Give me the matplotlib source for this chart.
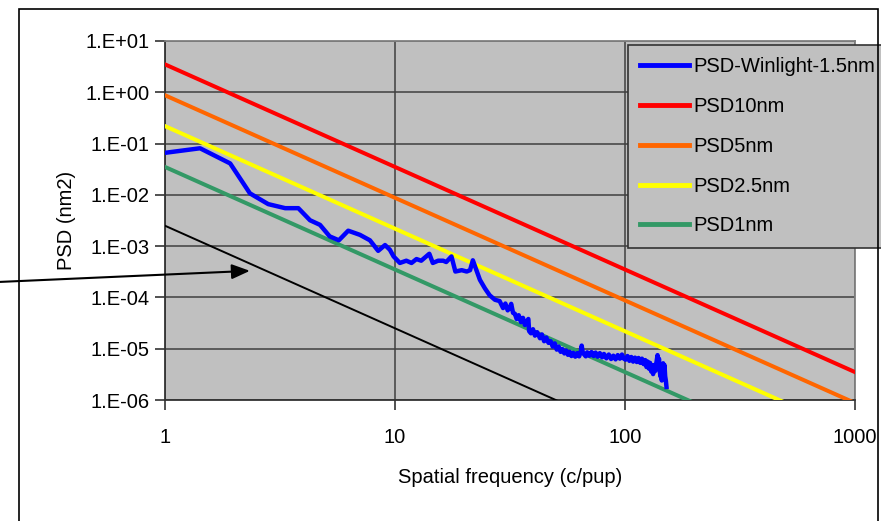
import matplotlib
matplotlib.use("Agg")
import matplotlib.pyplot as plt
import matplotlib.patches as mpatches
from matplotlib.lines import Line2D
import numpy as np

plt.rcParams['font.family'] = ['Liberation Sans', 'DejaVu Sans']

# ---- data ----
freq_meas = [1.0, 1.42, 1.92, 2.34, 2.81, 3.33, 3.8, 4.27, 4.72, 5.2, 5.7, 6.26, 7.04,
             7.78, 8.45, 9.05, 9.5, 9.86, 10.5, 11.2, 11.8, 12.4, 13.0, 14.1, 14.6,
             15.4, 16.2, 16.7, 17.6, 18.3, 19.5, 20.5, 21.2, 21.8, 22.6, 23.4, 24.6,
             25.8, 27.2, 28.5, 29.5, 30.2, 30.9, 31.6, 32.0, 32.6, 33.2, 33.8, 34.5,
             35.3, 36.0, 36.7, 37.4, 38.0, 38.3, 39.0, 39.8, 40.6, 41.5, 42.7, 43.5,
             44.5, 45.5, 46.5, 47.5, 48.5, 49.5, 50.5, 51.5, 52.5, 53.5, 54.5, 55.5,
             56.5, 57.5, 58.5, 59.6, 60.8, 62.0, 63.2, 64.3, 64.8, 65.5, 66.5, 67.5,
             68.5, 70.0, 71.5, 73.0, 74.5, 76.0, 77.7, 79.5, 81.0, 83.0, 85.0, 87.0,
             89.0, 91.0, 93.0, 95.0, 97.0, 98.5, 100.5, 102.5, 104.5, 106.5, 108.5,
             110.5, 112.5, 114.5, 116.5, 118.5, 120.5, 122.5, 124.0, 125.5, 127.0,
             128.5, 130.0, 131.5, 132.5, 134.0, 135.5, 137.0, 138.5, 139.5, 140.5,
             141.5, 142.5, 143.5, 144.5, 145.5, 146.5, 147.5, 148.5, 149.5, 150.5, 151.5]
psd_meas = [0.066, 0.081, 0.041, 0.0107, 0.0066, 0.0055, 0.0055, 0.0032, 0.0026, 0.00155,
            0.0013, 0.0020, 0.00166, 0.0013, 0.00081, 1.05e-3, 8.5e-4, 6.3e-4, 4.7e-4,
            5.2e-4, 4.7e-4, 5.6e-4, 5.2e-4, 7.1e-4, 4.7e-4, 5.2e-4, 5.2e-4, 4.9e-4, 6.3e-4,
            3.2e-4, 3.4e-4, 3.2e-4, 3.4e-4, 5.3e-4, 3.4e-4, 2.2e-4, 1.5e-4, 1.1e-4, 9.0e-5,
            8.5e-5, 6.2e-5, 7.6e-5, 5.6e-5, 6.4e-5, 7.5e-5, 5.0e-5, 4.8e-5, 3.8e-5, 4.5e-5,
            3.3e-5, 4.0e-5, 2.9e-5, 3.4e-5, 3.8e-5, 2.2e-5, 2.0e-5, 2.4e-5, 1.8e-5, 2.1e-5,
            1.6e-5, 1.9e-5, 1.4e-5, 1.65e-5, 1.3e-5, 1.4e-5, 1.1e-5, 1.27e-5, 9.6e-6,
            1.1e-5, 8.7e-6, 9.8e-6, 8.1e-6, 9.2e-6, 7.6e-6, 8.7e-6, 7.2e-6, 8.3e-6, 7.0e-6,
            8.2e-6, 7.1e-6, 9.0e-6, 1.15e-5, 8.6e-6, 7.7e-6, 7.1e-6, 8.5e-6, 7.3e-6, 8.6e-6,
            7.2e-6, 8.4e-6, 7.0e-6, 8.2e-6, 6.8e-6, 7.9e-6, 6.5e-6, 7.7e-6, 6.3e-6, 7.3e-6,
            6.2e-6, 7.5e-6, 6.4e-6, 7.7e-6, 6.5e-6, 6.1e-6, 7.2e-6, 5.8e-6, 6.9e-6, 5.6e-6,
            6.7e-6, 5.5e-6, 6.6e-6, 5.3e-6, 6.4e-6, 5.0e-6, 6.0e-6, 4.4e-6, 5.6e-6, 4.1e-6,
            5.3e-6, 3.6e-6, 4.7e-6, 3.2e-6, 4.8e-6, 3.7e-6, 5.4e-6, 7.5e-6, 4.4e-6, 6.4e-6,
            3.8e-6, 2.9e-6, 4.7e-6, 2.4e-6, 3.8e-6, 5.2e-6, 3.2e-6, 4.8e-6, 2.9e-6, 2.4e-6,
            1.8e-6]

freq_model = [1.0, 1000.0]
coef_10nm = 3.5
coef_5nm = 0.875
coef_2_5nm = 0.219
coef_1nm = 0.035
coef_black = 2.5e-3
model_exponent = -2.0

series_labels = ['PSD-Winlight-1.5nm', 'PSD10nm', 'PSD5nm', 'PSD2.5nm', 'PSD1nm']
series_colors = ['#0000FF', '#FF0000', '#FF6600', '#FFFF00', '#339966']

x_ticks = [1, 10, 100, 1000]
x_tick_labels = ['1', '10', '100', '1000']
y_ticks = [1e-6, 1e-5, 1e-4, 1e-3, 1e-2, 1e-1, 1e0, 1e1]
y_tick_labels = ['1.E-06', '1.E-05', '1.E-04', '1.E-03', '1.E-02', '1.E-01', '1.E+00', '1.E+01']

# ---- figure ----
W, H = 881, 521
fig = plt.figure(figsize=(W / 100, H / 100), dpi=100)
fig.patch.set_facecolor('white')

ax = fig.add_axes([165 / W, (H - 400) / H, 690 / W, 359 / H])
ax.set_facecolor('#C0C0C0')
ax.set_xscale('log')
ax.set_yscale('log')
ax.set_xlim(1, 1000)
ax.set_ylim(1e-6, 1e1)

fm = np.array(freq_model)
lw = 2.9
ax.plot(fm, coef_black * fm ** model_exponent, color='black', lw=1.4, zorder=3)
ax.plot(fm, coef_1nm * fm ** model_exponent, color=series_colors[4], lw=lw, zorder=3)
ax.plot(fm, coef_2_5nm * fm ** model_exponent, color=series_colors[3], lw=lw, zorder=3)
ax.plot(fm, coef_5nm * fm ** model_exponent, color=series_colors[2], lw=lw, zorder=3)
ax.plot(fm, coef_10nm * fm ** model_exponent, color=series_colors[1], lw=lw, zorder=3)
ax.plot(freq_meas, psd_meas, color=series_colors[0], lw=3.2, zorder=4,
        solid_joinstyle='round')

ax.set_xticks(x_ticks)
ax.set_xticklabels(x_tick_labels)
ax.set_yticks(y_ticks)
ax.set_yticklabels(y_tick_labels)
ax.xaxis.set_minor_locator(matplotlib.ticker.NullLocator())
ax.yaxis.set_minor_locator(matplotlib.ticker.NullLocator())
ax.tick_params(axis='both', direction='out', length=7, width=1.2, color='#333333',
               labelsize=14.5, labelcolor='black')
ax.tick_params(axis='x', pad=13)
ax.tick_params(axis='y', pad=4)
ax.grid(True, which='major', color='#404040', lw=1.1)
ax.set_axisbelow(True)
for s in ['left', 'bottom']:
    ax.spines[s].set_color('#333333')
    ax.spines[s].set_linewidth(1.3)
for s in ['top', 'right']:
    ax.spines[s].set_color('#808080')
    ax.spines[s].set_linewidth(1.3)

ax.set_xlabel('Spatial frequency (c/pup)', fontsize=14.5, labelpad=15)
ax.set_ylabel('PSD (nm2)', fontsize=14.5, labelpad=7)

# legend
handles = [Line2D([], [], color=c, lw=3.5) for c in series_colors]
leg = fig.legend(handles, series_labels, loc='upper left',
                 bbox_to_anchor=(628 / W, 1 - 45 / H), borderaxespad=0,
                 fontsize=14.5, frameon=True, fancybox=False, framealpha=1,
                 facecolor='#C0C0C0', edgecolor='#333333', handlelength=2.4,
                 handletextpad=0.25, labelspacing=1.03, borderpad=0.62)
leg.get_frame().set_linewidth(1.2)

# outer chart border
border = mpatches.Rectangle((19 / W, -0.05), (878 - 19) / W, 1.05 - 9 / H,
                            transform=fig.transFigure, fill=False,
                            edgecolor='black', lw=1.2, zorder=10)
fig.patches.append(border)

# arrow pointing to black line
ax.annotate('', xy=(2.34, 3.3e-4), xycoords='data',
            xytext=(-2 / W, 1 - 282 / H), textcoords='figure fraction',
            arrowprops=dict(arrowstyle='-|>,head_length=1.1,head_width=0.45',
                            color='black', lw=1.5, shrinkA=0, shrinkB=0),
            annotation_clip=False)

fig.savefig('out.png', dpi=100)
